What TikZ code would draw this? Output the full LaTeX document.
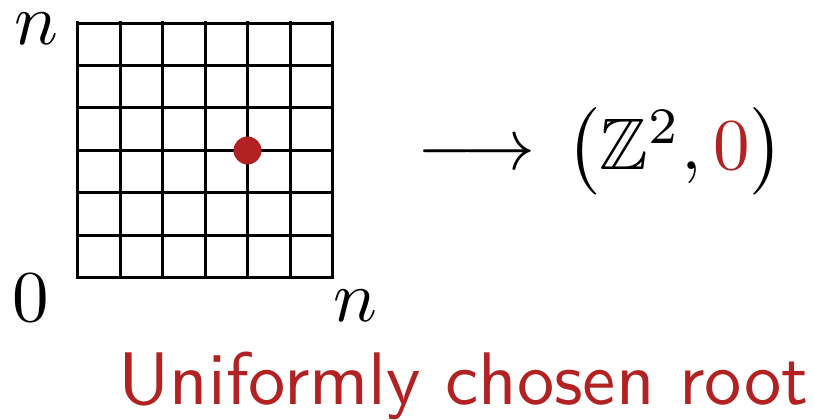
\documentclass[tikz,border=0pt]{standalone}
\usepackage{amssymb}
\definecolor{rootred}{RGB}{178,34,34}
\begin{document}
\begin{tikzpicture}[x=1pt,y=1pt,
  gridline/.style={line width=3pt, line cap=rect},
  lbl/.style={inner sep=0pt, anchor=base west, scale=7.3},
  caption/.style={inner sep=0pt, anchor=base west, scale=7.45, font=\sffamily, text=rootred},
  rootdot/.style={circle, fill=rootred, minimum size=28pt, inner sep=0pt}]
\useasboundingbox (0,0) rectangle (814,420);
\draw[gridline, shift={(77.5,142)}] (0,0) grid[step=42.5] (255,255);
\node[rootdot] (root) at (247.5,269.5) {};
\node[lbl] (ntop) at (13,375) {$n$};
\node[lbl] (zero) at (11,98) {$0$};
\node[lbl] (nright) at (332,98) {$n$};
\node[lbl] (arrow) at (416,250) {$\longrightarrow$};
\node[lbl] (target) at (565,250) {$\bigl(\mathbb{Z}^2,{\color{rootred}0}\bigr)$};
\node[caption] (cap) at (117,15) {Uniformly chosen root};
\end{tikzpicture}
\end{document}
